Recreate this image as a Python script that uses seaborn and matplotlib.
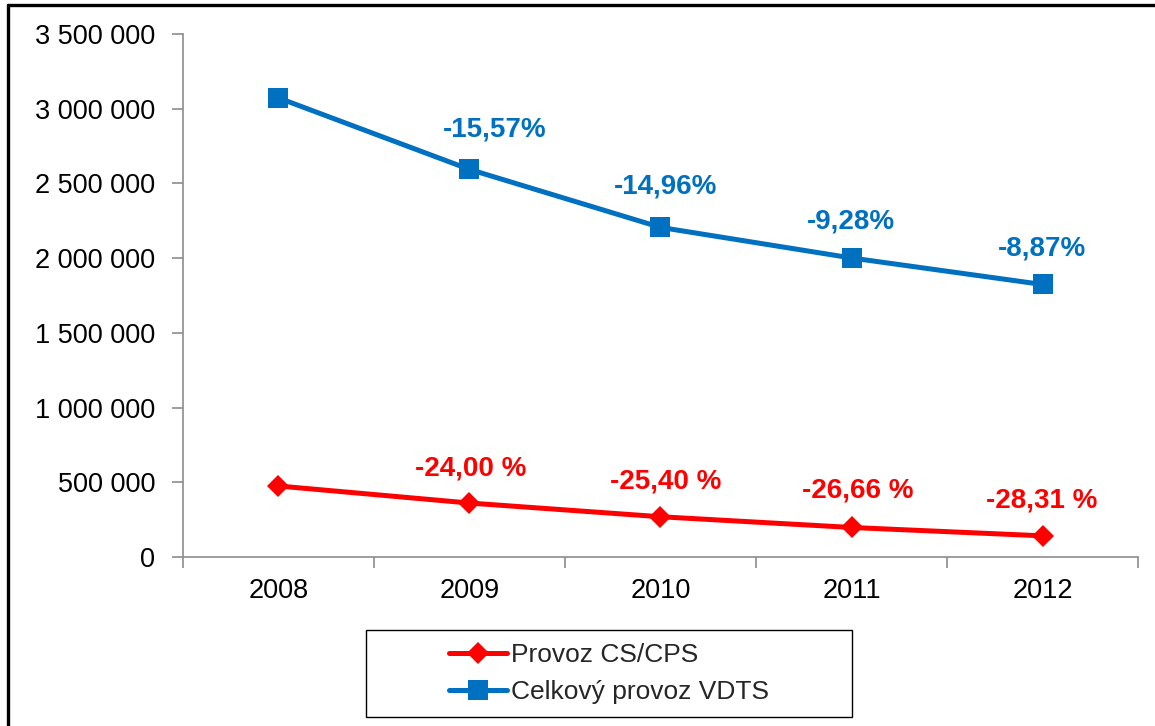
import matplotlib
matplotlib.use("Agg")
import matplotlib.pyplot as plt
import matplotlib.ticker as mticker
from matplotlib.lines import Line2D
from matplotlib.patches import Rectangle
import seaborn as sns
import pandas as pd

# Yearly traffic volumes
years = ["2008", "2009", "2010", "2011", "2012"]
vdts_total = [3072000, 2593700, 2205700, 2001000, 1823500]
cs_cps = [475000, 361000, 269300, 197500, 141600]

# Year-on-year change labels (from 2009 onwards)
vdts_change = ["-15,57%", "-14,96%", "-9,28%", "-8,87%"]
cs_change = ["-24,00 %", "-25,40 %", "-26,66 %", "-28,31 %"]

series_names = ["Provoz CS/CPS", "Celkový provoz VDTS"]

BLUE = "#0070C0"
RED = "#FF0000"
AXIS_GREY = "#8C8C8C"

sns.set_theme(style="white")
plt.rcParams["font.family"] = ["Liberation Sans", "DejaVu Sans"]

df = pd.DataFrame({
    "x": list(range(len(years))) * 2,
    "value": cs_cps + vdts_total,
    "series": [series_names[0]] * len(years) + [series_names[1]] * len(years),
})

fig = plt.figure(figsize=(11.55, 7.26), dpi=100)
ax = fig.add_axes([0.1584, 0.2328, 0.8269, 0.7204])

sns.lineplot(
    data=df, x="x", y="value", hue="series", style="series",
    hue_order=series_names, style_order=series_names,
    palette=[RED, BLUE], markers=["D", "s"], dashes=False,
    linewidth=3.6, markersize=14, markeredgewidth=0,
    ax=ax, legend=True,
)
# the diamond marker spans its diagonal, so size it down to match the squares
for line in ax.lines:
    if line.get_marker() == "D":
        line.set_markersize(11)

ax.set_xlim(-0.5, len(years) - 0.5)
ax.set_ylim(0, 3500000)
ax.set_xlabel("")
ax.set_ylabel("")

# category boundaries carry the tick marks, labels sit at the centres
ax.xaxis.set_major_locator(mticker.FixedLocator([i - 0.5 for i in range(len(years) + 1)]))
ax.xaxis.set_major_formatter(mticker.NullFormatter())
ax.xaxis.set_minor_locator(mticker.FixedLocator(list(range(len(years)))))
ax.xaxis.set_minor_formatter(mticker.FixedFormatter(years))
ax.tick_params(axis="x", which="major", direction="out", length=8, width=1.2,
               color=AXIS_GREY, bottom=True)
ax.tick_params(axis="x", which="minor", length=0, labelsize=19.5, pad=15,
               labelcolor="black", bottom=True)

ax.yaxis.set_major_locator(mticker.MultipleLocator(500000))
ax.yaxis.set_major_formatter(
    mticker.FuncFormatter(lambda v, p: f"{int(v):,}".replace(",", " "))
)
ax.tick_params(axis="y", direction="out", length=8, width=1.2, color=AXIS_GREY,
               labelsize=19.5, pad=12, labelcolor="black", left=True)

for side in ["top", "right"]:
    ax.spines[side].set_visible(False)
for side in ["left", "bottom"]:
    ax.spines[side].set_color(AXIS_GREY)
    ax.spines[side].set_linewidth(1.2)
ax.grid(False)

# change labels above the points, offsets in pixels
px = 0.72
vdts_offsets = [(25, 40), (5, 41), (-1, 36), (-1, 36)]
cs_offsets = [(1, 35), (5, 35), (6, 37), (-1, 35)]
for i, txt in enumerate(vdts_change):
    dx, dy = vdts_offsets[i]
    ax.annotate(txt, (i + 1, vdts_total[i + 1]), xytext=(dx * px, dy * px),
                textcoords="offset points", ha="center", va="center",
                fontsize=20, fontweight="bold", color=BLUE)
for i, txt in enumerate(cs_change):
    dx, dy = cs_offsets[i]
    ax.annotate(txt, (i + 1, cs_cps[i + 1]), xytext=(dx * px, dy * px),
                textcoords="offset points", ha="center", va="center",
                fontsize=20, fontweight="bold", color=RED)

# legend below the plot in its own framed box
handles, labels = ax.get_legend_handles_labels()
ax.get_legend().remove()
fig.legend(handles, labels, loc="center", bbox_to_anchor=(0.5273, 0.0723),
           frameon=False, fontsize=19, handlelength=2.2, handletextpad=0.15,
           labelspacing=0.5)
fig.add_artist(Rectangle((366 / 1155, 9 / 726), 486 / 1155, 87 / 726,
                         transform=fig.transFigure, fill=False,
                         edgecolor="black", linewidth=1.0))

# outer frame on the left and top edges
fig.add_artist(Line2D([8 / 1155, 8 / 1155], [0, 1 - 5 / 726],
                      transform=fig.transFigure, color="black", linewidth=2.4))
fig.add_artist(Line2D([8 / 1155, 1], [1 - 5 / 726, 1 - 5 / 726],
                      transform=fig.transFigure, color="black", linewidth=2.4))

fig.savefig("out.png", dpi=100)
